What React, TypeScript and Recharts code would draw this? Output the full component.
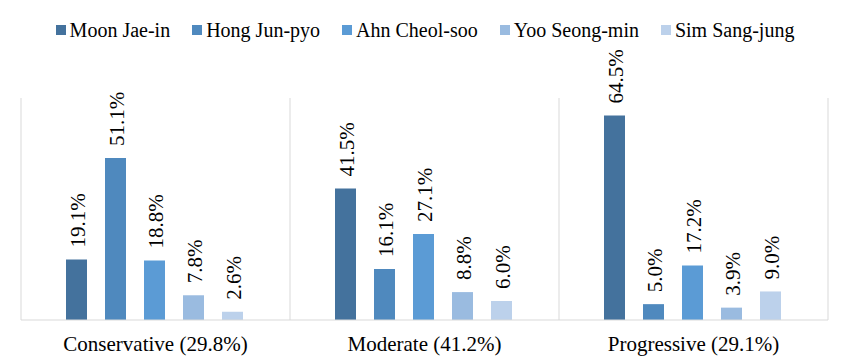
import React from 'react';
import { BarChart, Bar, XAxis, YAxis, CartesianGrid, Legend, LabelList } from 'recharts';

const categories = ['Conservative (29.8%)', 'Moderate (41.2%)', 'Progressive (29.1%)'];
const candidates = ['Moon Jae-in', 'Hong Jun-pyo', 'Ahn Cheol-soo', 'Yoo Seong-min', 'Sim Sang-jung'];
const moon = [19.1, 41.5, 64.5];
const hong = [51.1, 16.1, 5.0];
const ahn = [18.8, 27.1, 17.2];
const yoo = [7.8, 8.8, 3.9];
const sim = [2.6, 6.0, 9.0];
const colors = ['#44729D', '#4F89BE', '#5B9BD5', '#9ABBE0', '#BCD1EB'];
const yDomain = [0, 70];
const separatorTicks = [0, 1, 2, 3];

const seriesValues = [moon, hong, ahn, yoo, sim];
const keys = ['moon', 'hong', 'ahn', 'yoo', 'sim'];

const data = categories.map((c, i) => {
  const row: Record<string, any> = { category: c, idx: i + 0.5 };
  keys.forEach((k, s) => {
    row[k] = seriesValues[s][i];
  });
  return row;
});

const FONT = "'Liberation Serif', 'Times New Roman', Times, serif";

const ValueLabel = (props: any) => {
  const { x, y, width, value } = props;
  const px = Number(x) + Number(width) / 2 + 8.5;
  const py = Number(y) - 12;
  return (
    <text
      x={px}
      y={py}
      transform={`rotate(-90 ${px} ${py})`}
      textAnchor="start"
      style={{ fontFamily: FONT, fontSize: '21px' }}
      fill="#000"
    >
      {`${Number(value).toFixed(1)}%`}
    </text>
  );
};

const CategoryTick = (props: any) => {
  const { x, y, payload } = props;
  return (
    <text x={x} y={Number(y) + 31} textAnchor="middle" style={{ fontFamily: FONT, fontSize: '21px' }} fill="#000">
      {payload.value}
    </text>
  );
};

const LegendContent = (props: any) => {
  const payload = [...(props.payload || [])].sort(
    (a: any, b: any) => candidates.indexOf(a.value) - candidates.indexOf(b.value)
  );
  return (
    <div
      style={{
        display: 'flex',
        justifyContent: 'center',
        alignItems: 'center',
        height: 20,
        lineHeight: '20px',
        fontFamily: FONT,
        fontSize: '20px',
        color: '#000',
        whiteSpace: 'nowrap',
      }}
    >
      {payload.map((p: any, i: number) => (
        <div key={i} style={{ display: 'flex', alignItems: 'center', marginRight: i < payload.length - 1 ? 22 : 0, fontFamily: FONT }}>
          <span style={{ display: 'inline-block', width: 10, height: 10, background: p.color, marginRight: 4 }} />
          <span style={{ fontFamily: FONT }}>{p.value}</span>
        </div>
      ))}
    </div>
  );
};

export default function App() {
  return (
    <div style={{ position: 'absolute', left: 0, top: 0, width: 850, height: 361, background: '#fff', fontFamily: FONT }}>
      <BarChart
        width={850}
        height={361}
        data={data}
        margin={{ top: 98, right: 22, bottom: 11, left: 21 }}
        barCategoryGap={45}
        barGap={18}
        style={{ fontFamily: FONT }}
      >
        <XAxis
          xAxisId="sep"
          type="number"
          dataKey="idx"
          domain={[0, 3]}
          ticks={separatorTicks}
          hide
        />
        <XAxis
          xAxisId="cat"
          dataKey="category"
          type="category"
          height={30}
          axisLine={{ stroke: '#D9D9D9', strokeWidth: 1 }}
          tickLine={false}
          tickSize={0}
          tickMargin={0}
          tick={<CategoryTick />}
          interval={0}
        />
        <YAxis domain={yDomain} hide />
        <CartesianGrid xAxisId="sep" horizontal={false} vertical stroke="#D9D9D9" strokeWidth={1} />
        <Legend
          verticalAlign="middle"
          align="center"
          layout="horizontal"
          content={<LegendContent />}
          wrapperStyle={{ top: 20, left: 0, width: 850 }}
        />
        {keys.map((k, s) => (
          <Bar key={k} xAxisId="cat" dataKey={k} name={candidates[s]} fill={colors[s]} isAnimationActive={false}>
            <LabelList dataKey={k} content={<ValueLabel />} />
          </Bar>
        ))}
      </BarChart>
    </div>
  );
}
